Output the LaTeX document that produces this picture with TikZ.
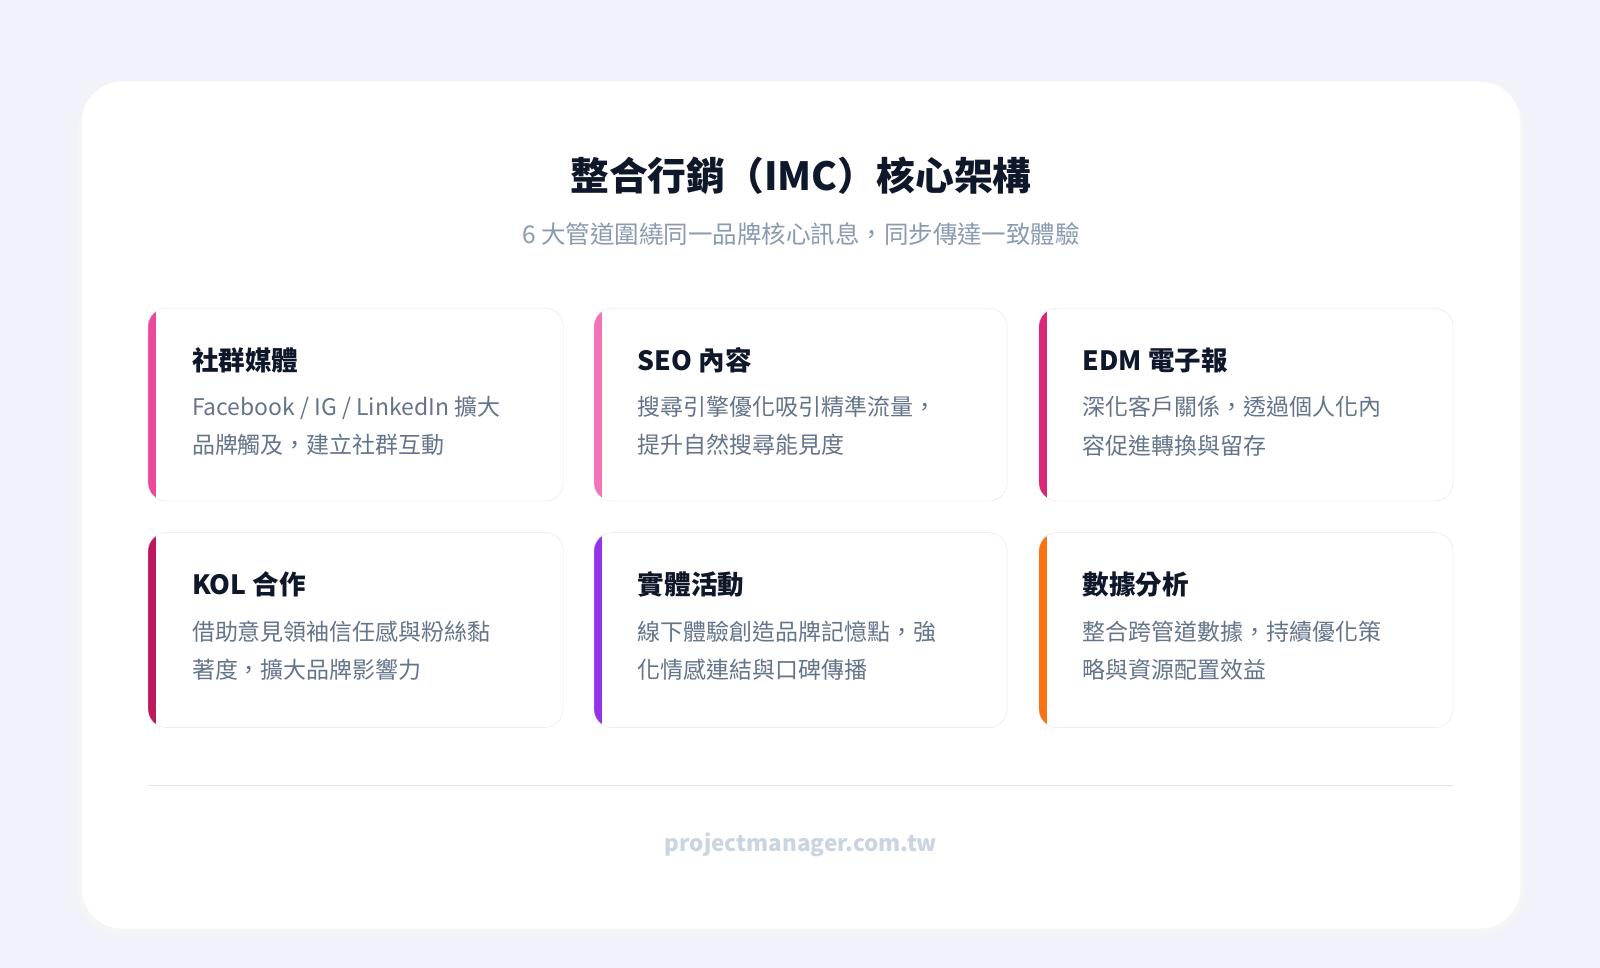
\documentclass[tikz,border=0pt]{standalone}
\usepackage{fontspec}
\setmainfont{Noto Sans CJK TC}
\definecolor{bgc}{HTML}{F2F3FA}
\definecolor{titc}{HTML}{0F172A}
\definecolor{subc}{HTML}{8A9AB0}
\definecolor{desc}{HTML}{64748B}
\definecolor{bordc}{HTML}{E2E6EE}
\definecolor{footc}{HTML}{CBD5E1}
\definecolor{aA}{HTML}{EC4899}
\definecolor{aB}{HTML}{F472B6}
\definecolor{aC}{HTML}{DB2777}
\definecolor{aD}{HTML}{BE185D}
\definecolor{aE}{HTML}{9333EA}
\definecolor{aF}{HTML}{F97316}
\tikzset{
 cardtitle/.style={anchor=west,font=\fontsize{26}{30}\selectfont\bfseries,text=titc,inner sep=0},
 carddesc/.style={anchor=north west,font=\fontsize{22.5}{37.5}\selectfont,text=desc,align=left,inner sep=0},
}
\newcommand{\mycard}[7]{%
 \begin{scope}%
  \clip[rounded corners=18pt] (#1pt,-#2pt) rectangle (#3pt,-#4pt);%
  \fill[white] (#1pt,-#2pt) rectangle (#3pt,-#4pt);%
  \fill[#5] (#1pt,-#2pt) rectangle (#1pt+8pt,-#4pt);%
 \end{scope}%
 \draw[bordc,rounded corners=18pt] (#1pt,-#2pt) rectangle (#3pt,-#4pt);%
 \node[cardtitle] (t#5) at (#1pt+43pt,-#2pt-51pt) {#6};%
 \node[carddesc] (d#5) at (#1pt+43pt,-#2pt-86pt) {#7};%
}
\begin{document}
\begin{tikzpicture}[x=1pt,y=1pt]
\fill[bgc] (-20,20) rectangle (1620,-990);
\fill[black!4,rounded corners=44pt] (76,-84) rectangle (1494,-916);
\fill[white,rounded corners=40pt] (80,-80) rectangle (1490,-910);
\node[font=\fontsize{38}{44}\selectfont\bfseries,text=titc] (title) at (785,-172) {整合行銷（IMC）核心架構};
\node[font=\fontsize{24}{28}\selectfont,text=subc] (sub) at (785,-229) {6 大管道圍繞同一品牌核心訊息，同步傳達一致體驗};
\mycard{145}{302}{552}{491}{aA}{社群媒體}{Facebook / IG / LinkedIn 擴大\\品牌觸及，建立社群互動}
\mycard{582}{302}{987}{491}{aB}{SEO 內容}{搜尋引擎優化吸引精準流量，\\提升自然搜尋能見度}
\mycard{1018}{302}{1424}{491}{aC}{EDM 電子報}{深化客戶關係，透過個人化內\\容促進轉換與留存}
\mycard{145}{522}{552}{713}{aD}{KOL 合作}{借助意見領袖信任感與粉絲黏\\著度，擴大品牌影響力}
\mycard{582}{522}{987}{713}{aE}{實體活動}{線下體驗創造品牌記憶點，強\\化情感連結與口碑傳播}
\mycard{1018}{522}{1424}{713}{aF}{數據分析}{整合跨管道數據，持續優化策\\略與資源配置效益}
\coordinate (l1) at (145,-770);
\coordinate (l2) at (1424,-770);
\draw[bordc,line width=1.5pt] (l1) -- (l2);
\node[font=\fontsize{22}{26}\selectfont\bfseries,text=footc] (foot) at (785,-828) {projectmanager.com.tw};
\pgfresetboundingbox
\useasboundingbox (0,0) rectangle (1568,-948.6);
\end{tikzpicture}
\end{document}
